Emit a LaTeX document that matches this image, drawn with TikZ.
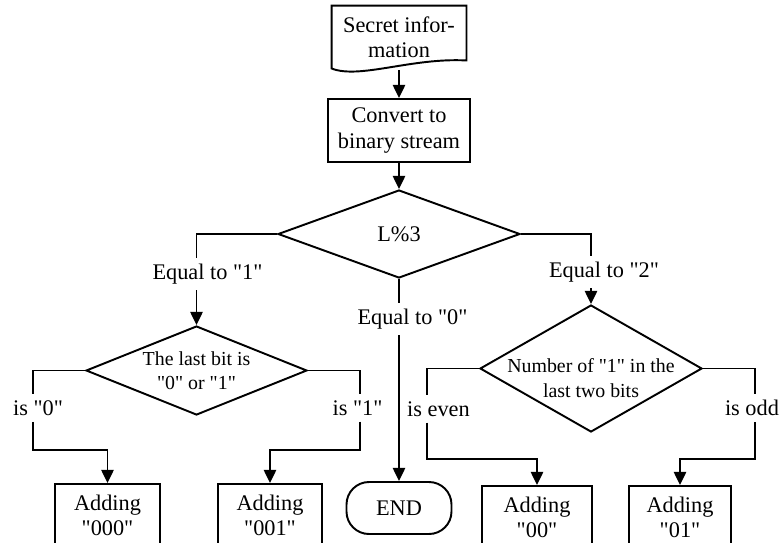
\documentclass[tikz,border=0pt]{standalone}
\usepackage{fontspec}
\setmainfont{Liberation Serif}[Ligatures=TeXOff]
\usetikzlibrary{arrows.meta,shapes.geometric}

\begin{document}
\begin{tikzpicture}[>={Triangle[length=7.5pt,width=7pt]},line width=1.1pt,
  font=\fontsize{12.7}{14.3}\selectfont,
  box/.style={draw,rectangle,inner sep=2pt,minimum height=1.26cm,align=center},
  dia/.style={draw,diamond,inner xsep=-10pt,inner ysep=-4pt,align=center},
  small/.style={font=\fontsize{11.3}{13.9}\selectfont},
  lbl/.style={inner sep=3pt},
  term/.style={draw,rectangle,rounded corners=0.45cm,minimum width=2.1cm,minimum height=1.04cm}]
\useasboundingbox (0,0) rectangle (15.58,-10.84);
\clip (0,0) rectangle (15.58,-10.84);
\node[align=center,minimum width=2.66cm,minimum height=1.22cm,inner sep=0pt] (secret) at (7.98,-0.74) {Secret infor-\\mation};
\draw (secret.south west) -- (secret.north west) -- (secret.north east) -- ([yshift=0.16cm]secret.south east) .. controls +(-1.1,0.06) and +(0.56,-0.22) .. (secret.south west) -- cycle;
\node[box,minimum width=2.84cm] (conv) at (7.98,-2.61) {Convert to\\binary stream};
\node[dia,aspect=2.75,minimum width=4.84cm,minimum height=1.76cm] (mod) at (7.98,-4.68) {L\%3};
\node[lbl] (eq1) at (4.15,-5.48) {Equal to "1"};
\node[lbl] (eq0) at (8.25,-6.38) {Equal to "0"};
\node[lbl] (eq2) at (12.08,-5.44) {Equal to "2"};
\node[dia,small,aspect=2.48,minimum width=4.42cm,minimum height=1.78cm] (last) at (3.93,-7.41) {The last bit is\\"0" or "1"};
\node[dia,small,aspect=1.75,text height=33pt,minimum width=4.44cm,minimum height=2.54cm] (num) at (11.82,-7.37) {Number of "1" in the\\last two bits};
\node[lbl] (is0) at (0.76,-8.16) {is "0"};
\node[lbl] (is1) at (7.15,-8.16) {is "1"};
\node[lbl] (even) at (8.77,-8.18) {is even};
\node[lbl] (odd) at (15.04,-8.16) {is odd};
\node[box,minimum width=2.1cm] (a000) at (2.15,-10.31) {Adding\\"000"};
\node[box,minimum width=2.08cm] (a001) at (5.4,-10.31) {Adding\\"001"};
\node[term] (end) at (7.98,-10.16) {END};
\node[box,minimum width=2.2cm] (a00) at (10.74,-10.35) {Adding\\"00"};
\node[box,minimum width=2.04cm] (a01) at (13.6,-10.35) {Adding\\"01"};
\coordinate (lowL) at (0,-9.0);
\coordinate (lowR) at (0,-9.18);
\draw[->] ([yshift=-0.04cm]secret.south) -- (conv.north);
\draw[->] (conv.south) -- (mod.north);
\draw (mod.west) -| (eq1.north -| last.north);
\draw[->] (eq1.south -| last.north) -- (last.north);
\draw (mod.east) -| (eq2.north -| num.north);
\draw[->] (eq2.south -| num.north) -- (num.north);
\draw (mod.south) -- (eq0.north -| mod.south);
\draw[->] (eq0.south -| end.north) -- (end.north);
\draw (last.west) -| ([xshift=-0.1cm]is0.north);
\draw[->] ([xshift=-0.1cm]is0.south) |- (lowL -| a000.north) -- (a000.north);
\draw (last.east) -| ([xshift=0.05cm]is1.north);
\draw[->] ([xshift=0.05cm]is1.south) |- (lowL -| a001.north) -- (a001.north);
\draw (num.west) -| ([xshift=-0.23cm]even.north);
\draw[->] ([xshift=-0.23cm]even.south) |- (lowR -| a00.north) -- (a00.north);
\draw (num.east) -| ([xshift=0.06cm]odd.north);
\draw[->] ([xshift=0.06cm]odd.south) |- (lowR -| a01.north) -- (a01.north);
\end{tikzpicture}
\end{document}
